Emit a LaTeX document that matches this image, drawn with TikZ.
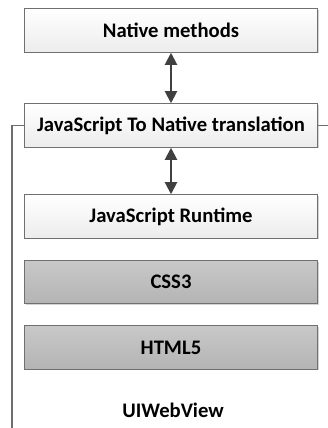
\documentclass[tikz,border=0pt]{standalone}
\usepackage{fontspec}
\setmainfont{Carlito}
\usetikzlibrary{arrows.meta,shadows}

\tikzset{
  layer/.style={draw={rgb,255:red,112;green,112;blue,112}, line width=0.9pt,
    top color=white, bottom color={rgb,255:red,236;green,236;blue,236},
    minimum width=219.5pt, minimum height=32.5pt, inner sep=0pt,
    font=\bfseries\fontsize{15.5}{18}\selectfont,
    drop shadow={shadow xshift=0.9pt, shadow yshift=-0.9pt, opacity=0.35, fill=gray}},
  darklayer/.style={layer, top color={rgb,255:red,200;green,200;blue,200},
    bottom color={rgb,255:red,180;green,180;blue,180}},
  link/.style={{Triangle[width=9pt,length=9pt]}-{Triangle[width=9pt,length=9pt]},
    line width=1.5pt, draw={rgb,255:red,64;green,64;blue,64}}
}

\begin{document}
\begin{tikzpicture}[x=0.75pt,y=0.75pt,yscale=-1,xscale=1]
    \useasboundingbox (0,0) rectangle (328,428);

    %Shape: UIWebView frame
    \draw [color={rgb,255:red,110;green,110;blue,110}, line width=0.9pt] (328,125.5) -- (12,125.5) -- (12,430) ;

    % Layers
    \node [layer] (native) at (171,30.5) {Native methods};
    \node [layer] (bridge) at (171,125.5) {JavaScript To Native translation};
    \node [layer] (runtime) at (171,216.5) {JavaScript Runtime};
    \node [darklayer] (css) at (171,282) {CSS3};
    \node [darklayer] (html) at (171,347.5) {HTML5};

    % Text Node
    \node [font=\bfseries\fontsize{15.5}{18}\selectfont] (webview) at (173,410) {UIWebView};

    %Straight Lines
    \draw [link] (native) -- (bridge) ;
    \draw [link] (bridge) -- (runtime) ;

\end{tikzpicture}
\end{document}
